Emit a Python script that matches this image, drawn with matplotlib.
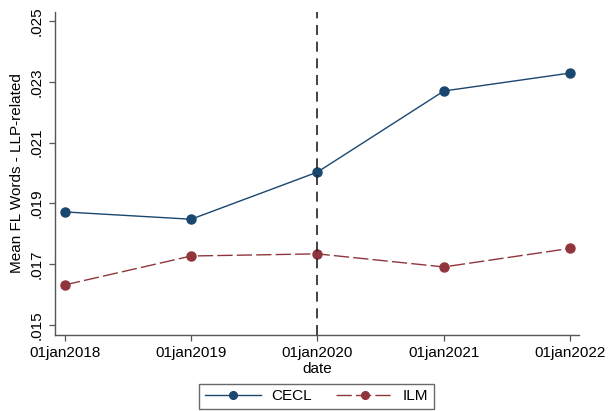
import pandas as pd
import matplotlib.pyplot as plt
import matplotlib.dates as mdates

plt.rcParams["font.family"] = ["Liberation Sans", "DejaVu Sans"]

dates = ["2018-01-01", "2019-01-01", "2020-01-01", "2021-01-01", "2022-01-01"]
cecl = [0.01872, 0.01848, 0.02003, 0.02270, 0.02329]
ilm = [0.01632, 0.01727, 0.01734, 0.01691, 0.01752]
yticks = [0.015, 0.017, 0.019, 0.021, 0.023, 0.025]
event_date = "2020-01-01"

x = pd.to_datetime(dates)
navy = "#1a476f"
maroon = "#90353b"

fig = plt.figure(figsize=(6.08, 4.11), dpi=100)
ax = fig.add_axes([55 / 608, 76 / 411, 524 / 608, 323 / 411])

ax.plot(x, cecl, color=navy, lw=1.0, marker="o", ms=6.5, label="CECL")
ax.plot(x, ilm, color=maroon, lw=1.0, marker="o", ms=6.5,
        dashes=(11, 3), label="ILM")
ax.axvline(pd.Timestamp(event_date), color="#222222", lw=1.2, dashes=(6, 4))

ax.set_xlim(mdates.date2num(x[0]) - 29, mdates.date2num(x[-1]) + 26)
ax.set_ylim(0.01467, 0.0253)
ax.set_xticks(x)
ax.set_xticklabels([d.strftime("%d%b%Y").lower() for d in x], fontsize=11)
ax.set_yticks(yticks)
ax.set_yticklabels([f"{v:.3f}".lstrip("0") for v in yticks], fontsize=11,
                   rotation=90, va="center")

for side in ["top", "right"]:
    ax.spines[side].set_visible(False)
for side in ["left", "bottom"]:
    ax.spines[side].set_color("#555555")
    ax.spines[side].set_linewidth(1.0)
ax.tick_params(colors="#555555", length=4.5, width=0.9, labelcolor="black")

ax.set_xlabel("date", fontsize=11, labelpad=1)
ax.set_ylabel("Mean FL Words - LLP-related", fontsize=11, labelpad=4)

leg = fig.legend(loc="upper center", bbox_to_anchor=(316.5 / 608, 1 - 384 / 411),
                 ncol=2, fontsize=11, fancybox=False, frameon=True,
                 edgecolor="#444444", handlelength=3.7, handletextpad=0.65,
                 columnspacing=1.6, borderpad=0.35, borderaxespad=0,
                 markerscale=0.85)
leg.get_frame().set_linewidth(1.0)

fig.savefig("out.png", dpi=100)
